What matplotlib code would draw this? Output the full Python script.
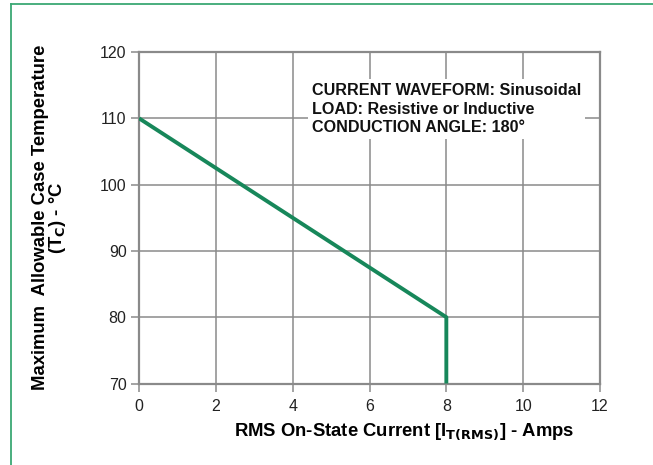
import matplotlib
matplotlib.use("Agg")
import matplotlib.pyplot as plt
from matplotlib.lines import Line2D

plt.rcParams['font.family'] = ['Liberation Sans', 'DejaVu Sans']

# Data
current = [0, 8, 8]
case_temp = [110, 80, 70]
x_ticks = [0, 2, 4, 6, 8, 10, 12]
y_ticks = [70, 80, 90, 100, 110, 120]
annotation_lines = ["CURRENT WAVEFORM: Sinusoidal",
                    "LOAD: Resistive or Inductive",
                    "CONDUCTION ANGLE: 180°"]

W, H = 653, 465
fig = plt.figure(figsize=(W / 100, H / 100), dpi=100)
fig.patch.set_facecolor('white')

# green frame (top and left)
border = '#3aa874'
fig.add_artist(Line2D([11 / W, 1], [1 - 4 / H, 1 - 4 / H], color=border, lw=1.3, transform=fig.transFigure))
fig.add_artist(Line2D([11 / W, 11 / W], [1 - 4 / H, 0], color=border, lw=1.3, transform=fig.transFigure))

left, right, top, bottom = 139, 600, 52, 383.5
ax = fig.add_axes([left / W, 1 - bottom / H, (right - left) / W, (bottom - top) / H])

ax.set_xlim(0, 12)
ax.set_ylim(70, 120)
ax.set_xticks(x_ticks)
ax.set_yticks(y_ticks)
ax.grid(True, color='#8a8a8a', lw=1.1)
ax.set_axisbelow(True)
for s in ax.spines.values():
    s.set_color('#8a8a8a')
    s.set_linewidth(1.6)

ax.tick_params(axis='both', direction='out', length=6, width=1.1, color='#8a8a8a',
               labelsize=11.5, labelcolor='#222222', pad=3)
ax.tick_params(axis='x', pad=5)

ax.plot(current, case_temp, color='#17875a', lw=2.8, solid_capstyle='butt', zorder=3)

ax.text(312 / W, 1 - 109 / H, "\n".join(annotation_lines), transform=fig.transFigure,
        fontsize=11.6, fontweight='bold', va='center', ha='left', linespacing=1.27,
        color='#111111',
        bbox=dict(facecolor='white', edgecolor='none', pad=3), zorder=4)

ax.set_xlabel(r"RMS On-State Current [I$_{\mathbf{T(RMS)}}$] - Amps",
              fontsize=13.3, fontweight='bold')
ax.xaxis.set_label_coords((404 - left) / (right - left), -0.115)

ax.set_ylabel("Maximum  Allowable Case Temperature\n(T$_{\\mathbf{C}}$) - °C",
              fontsize=13.3, fontweight='bold', linespacing=0.85)
ax.yaxis.set_label_coords(-(left - 68) / (right - left), 0.5)

fig.savefig("out.png", dpi=100)
